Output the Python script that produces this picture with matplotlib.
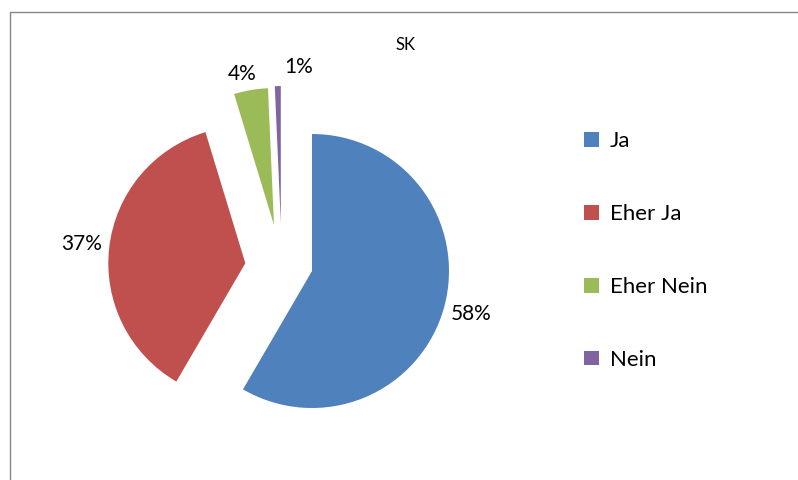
import matplotlib
matplotlib.use("Agg")
import matplotlib.pyplot as plt
import matplotlib.patches as patches

# Data for the pie chart
categories = ["Ja", "Eher Ja", "Eher Nein", "Nein"]
values = [58.4, 36.9, 4.0, 0.7]
colors = ["#4F81BD", "#C0504D", "#9BBB59", "#8064A2"]
explode = [0, 0.49, 0.34, 0.35]
# extra sideways shift of the small slices (Excel puts them further left)
side_shift = [0, 0, -0.22, -0.22]

plt.rcParams['font.family'] = ['Lato', 'DejaVu Sans']

fig = plt.figure(figsize=(7.98, 4.8), dpi=100)

# axes covering the whole figure, 1 data unit = 137 px
R = 137.0
cx, cy = 312, 271
ax = fig.add_axes([0, 0, 1, 1])

wedges, texts, autotexts = ax.pie(values, explode=explode, colors=colors,
                                  startangle=90, counterclock=False, radius=1,
                                  autopct='%.0f%%', pctdistance=1.2,
                                  textprops={'fontsize': 15, 'color': 'black'},
                                  wedgeprops={'linewidth': 0}, frame=True)
ax.set_xlim(-cx / R, (798 - cx) / R)
ax.set_ylim(-(480 - cy) / R, cy / R)
ax.set_aspect('auto')
ax.axis("off")

for w, t, dx in zip(wedges, autotexts, side_shift):
    x, y = w.center
    w.set_center((x + dx, y))
    tx, ty = t.get_position()
    t.set_position((tx + dx, ty))

# small label tweaks so 4% and 1% sit like in Excel
x, y = autotexts[2].get_position()
autotexts[2].set_position((x - 0.03, y - 0.08))
x, y = autotexts[3].get_position()
autotexts[3].set_position((x + 0.16, y - 0.06))

# Title
fig.text(405 / 798, 1 - 45 / 480, "SK", ha="center", va="center", fontsize=12)

# Legend on the right
ax.legend(wedges, categories, loc="upper left",
          bbox_to_anchor=(573 / 798, 1 - 120 / 480), bbox_transform=fig.transFigure,
          frameon=False, fontsize=16, handlelength=0.65, handleheight=0.65,
          handletextpad=0.5, labelspacing=2.38, borderpad=0)

# Grey frame around the chart area (extends past the image edges)
frame = patches.Rectangle((10 / 798, -0.1), 1.0, 1.1 - 12 / 480, transform=fig.transFigure,
                          fill=False, edgecolor="#868686", linewidth=1, clip_on=False)
fig.patches.append(frame)

fig.savefig("out.png", dpi=100)
